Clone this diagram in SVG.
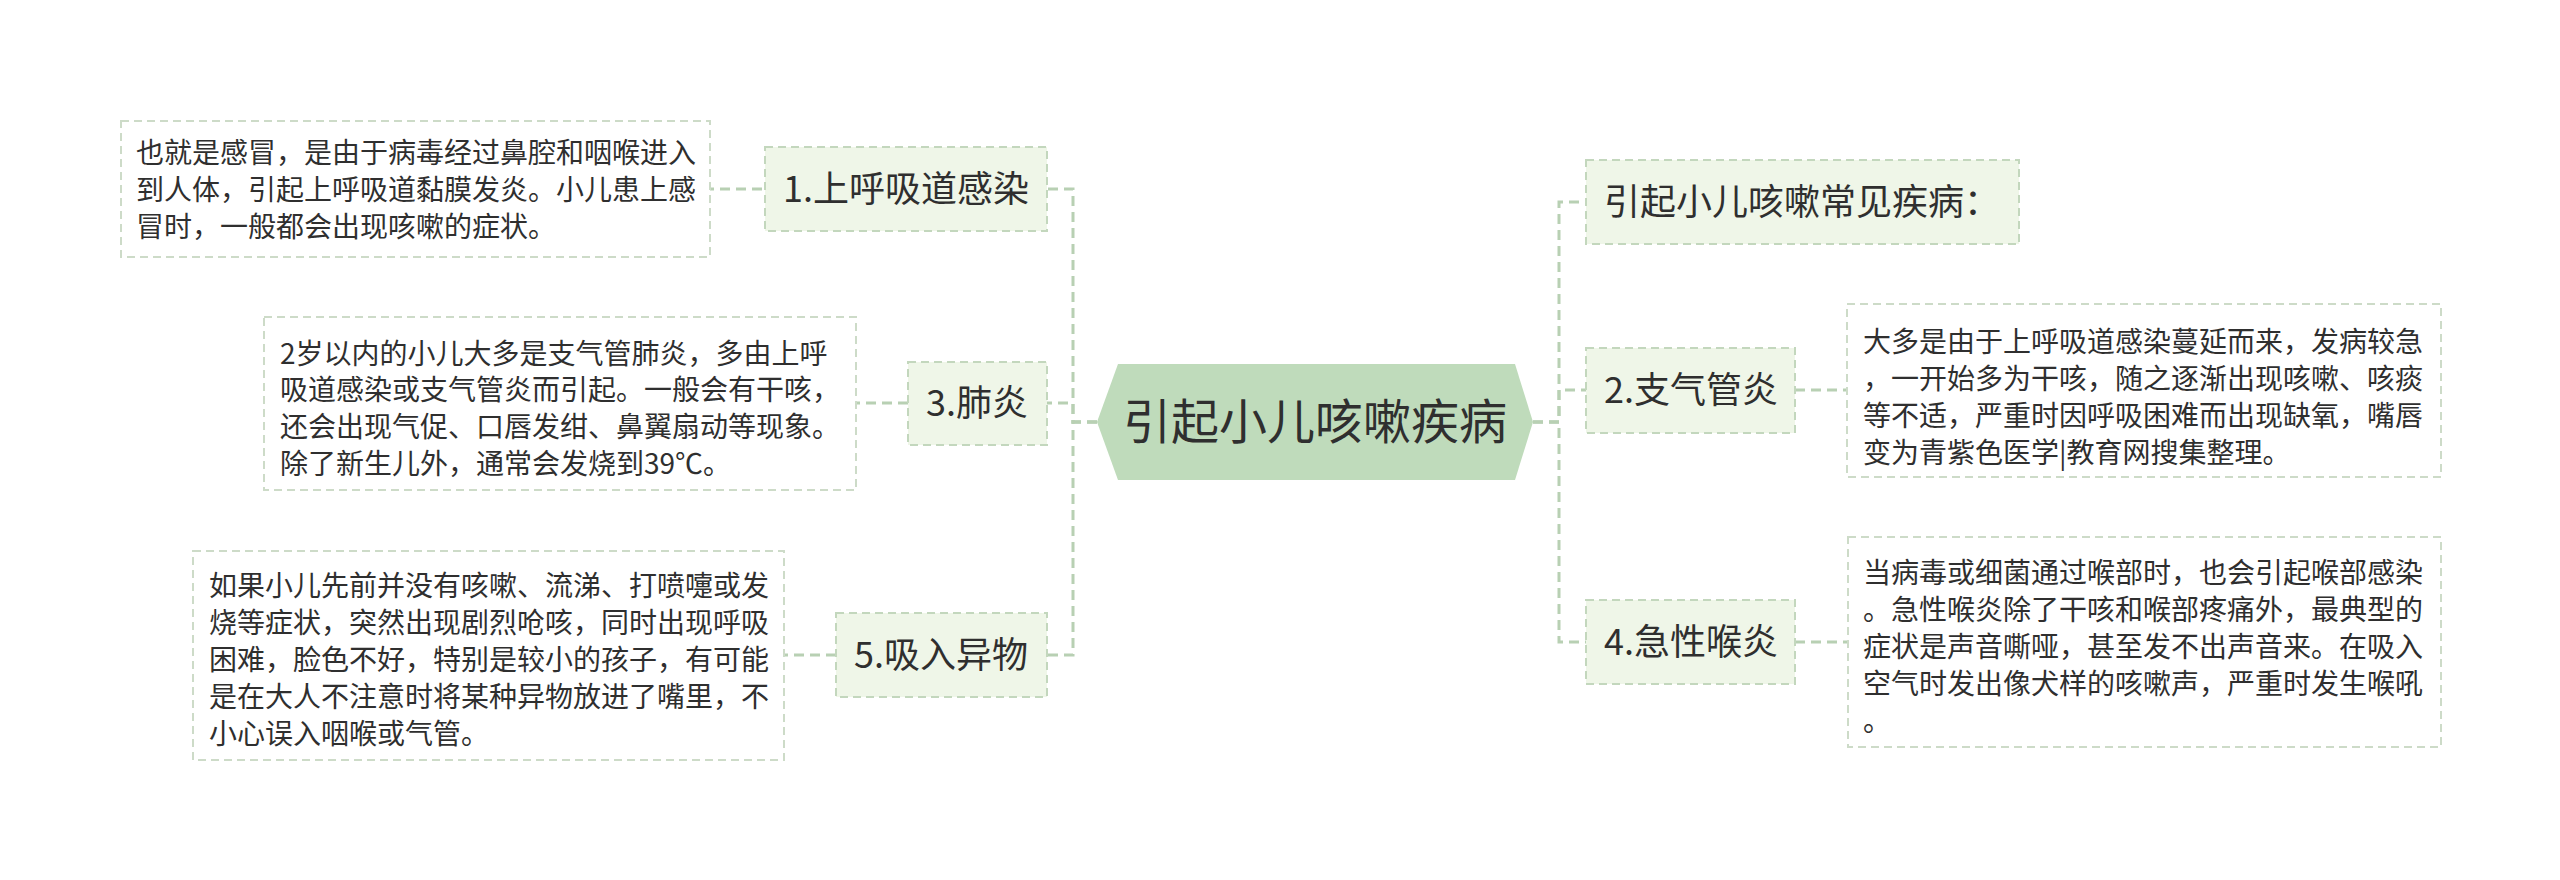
<svg xmlns="http://www.w3.org/2000/svg" width="2560" height="880" viewBox="0 0 2560 880">
<style>
text{font-family:"Noto Sans CJK SC","Noto Sans",sans-serif;fill:#2f2f2f}
.conn{fill:none;stroke:#b8d0b3;stroke-width:3;stroke-dasharray:10 6}
.topic{fill:#eff6e8;stroke:#c3d7bd;stroke-width:2;stroke-dasharray:8 5}
.desc{fill:#ffffff;stroke:#cddbc8;stroke-width:2;stroke-dasharray:8 5}
.tl{font-size:36px}
.dt{font-size:28px}
.ct{font-size:48px;text-anchor:middle}
</style>
<rect width="2560" height="880" fill="#ffffff"/>
<g id="connectors">
<path class="conn" d="M1097 422 H1073 V189 H1047"/>
<path class="conn" d="M1097 422 H1073 V403 H1047"/>
<path class="conn" d="M1097 422 H1073 V655 H1047"/>
<path class="conn" d="M1533 422 H1559 V202 H1586"/>
<path class="conn" d="M1533 422 H1559 V390 H1586"/>
<path class="conn" d="M1533 422 H1559 V642 H1586"/>
<path class="conn" d="M762 189 H710"/>
<path class="conn" d="M908 403 H856"/>
<path class="conn" d="M836 655 H784"/>
<path class="conn" d="M1795 390 H1847"/>
<path class="conn" d="M1795 642 H1848"/>
</g>
<g id="center">
<polygon points="1097,422 1118,364 1515,364 1533,422 1515,480 1118,480" fill="#bfdbbb"/>
<text class="ct" x="1315" y="439">引起小儿咳嗽疾病</text>
</g>
<g id="node1">
<rect class="topic" x="765" y="147" width="282" height="84"/>
<text class="tl" x="783" y="202">1.上呼吸道感染</text>
</g>
<g id="desc1">
<rect class="desc" x="121" y="121" width="589" height="136"/>
<text class="dt" x="136" y="163">也就是感冒，是由于病毒经过鼻腔和咽喉进入</text>
<text class="dt" x="136" y="200">到人体，引起上呼吸道黏膜发炎。小儿患上感</text>
<text class="dt" x="136" y="237">冒时，一般都会出现咳嗽的症状。</text>
</g>
<g id="node3">
<rect class="topic" x="908" y="362" width="139" height="83"/>
<text class="tl" x="926" y="416">3.肺炎</text>
</g>
<g id="desc3">
<rect class="desc" x="264" y="317" width="592" height="173"/>
<text class="dt" x="280" y="364">2岁以内的小儿大多是支气管肺炎，多由上呼</text>
<text class="dt" x="280" y="400">吸道感染或支气管炎而引起。一般会有干咳，</text>
<text class="dt" x="280" y="437">还会出现气促、口唇发绀、鼻翼扇动等现象。</text>
<text class="dt" x="280" y="474">除了新生儿外，通常会发烧到39℃。</text>
</g>
<g id="node5">
<rect class="topic" x="836" y="613" width="211" height="84"/>
<text class="tl" x="854" y="668">5.吸入异物</text>
</g>
<g id="desc5">
<rect class="desc" x="193" y="551" width="591" height="209"/>
<text class="dt" x="209" y="596">如果小儿先前并没有咳嗽、流涕、打喷嚏或发</text>
<text class="dt" x="209" y="633">烧等症状，突然出现剧烈呛咳，同时出现呼吸</text>
<text class="dt" x="209" y="670">困难，脸色不好，特别是较小的孩子，有可能</text>
<text class="dt" x="209" y="707">是在大人不注意时将某种异物放进了嘴里，不</text>
<text class="dt" x="209" y="744">小心误入咽喉或气管。</text>
</g>
<g id="node0">
<rect class="topic" x="1586" y="160" width="433" height="84"/>
<text class="tl" x="1604" y="215">引起小儿咳嗽常见疾病：</text>
</g>
<g id="node2">
<rect class="topic" x="1586" y="348" width="209" height="85"/>
<text class="tl" x="1604" y="403">2.支气管炎</text>
</g>
<g id="desc2">
<rect class="desc" x="1847" y="304" width="594" height="173"/>
<text class="dt" x="1863" y="352">大多是由于上呼吸道感染蔓延而来，发病较急</text>
<text class="dt" x="1863" y="389">，一开始多为干咳，随之逐渐出现咳嗽、咳痰</text>
<text class="dt" x="1863" y="426">等不适，严重时因呼吸困难而出现缺氧，嘴唇</text>
<text class="dt" x="1863" y="463">变为青紫色医学|教育网搜集整理。</text>
</g>
<g id="node4">
<rect class="topic" x="1586" y="600" width="209" height="84"/>
<text class="tl" x="1604" y="655">4.急性喉炎</text>
</g>
<g id="desc4">
<rect class="desc" x="1848" y="537" width="593" height="210"/>
<text class="dt" x="1863" y="583">当病毒或细菌通过喉部时，也会引起喉部感染</text>
<text class="dt" x="1863" y="620">。急性喉炎除了干咳和喉部疼痛外，最典型的</text>
<text class="dt" x="1863" y="657">症状是声音嘶哑，甚至发不出声音来。在吸入</text>
<text class="dt" x="1863" y="694">空气时发出像犬样的咳嗽声，严重时发生喉吼</text>
<text class="dt" x="1863" y="731">。</text>
</g>
</svg>
